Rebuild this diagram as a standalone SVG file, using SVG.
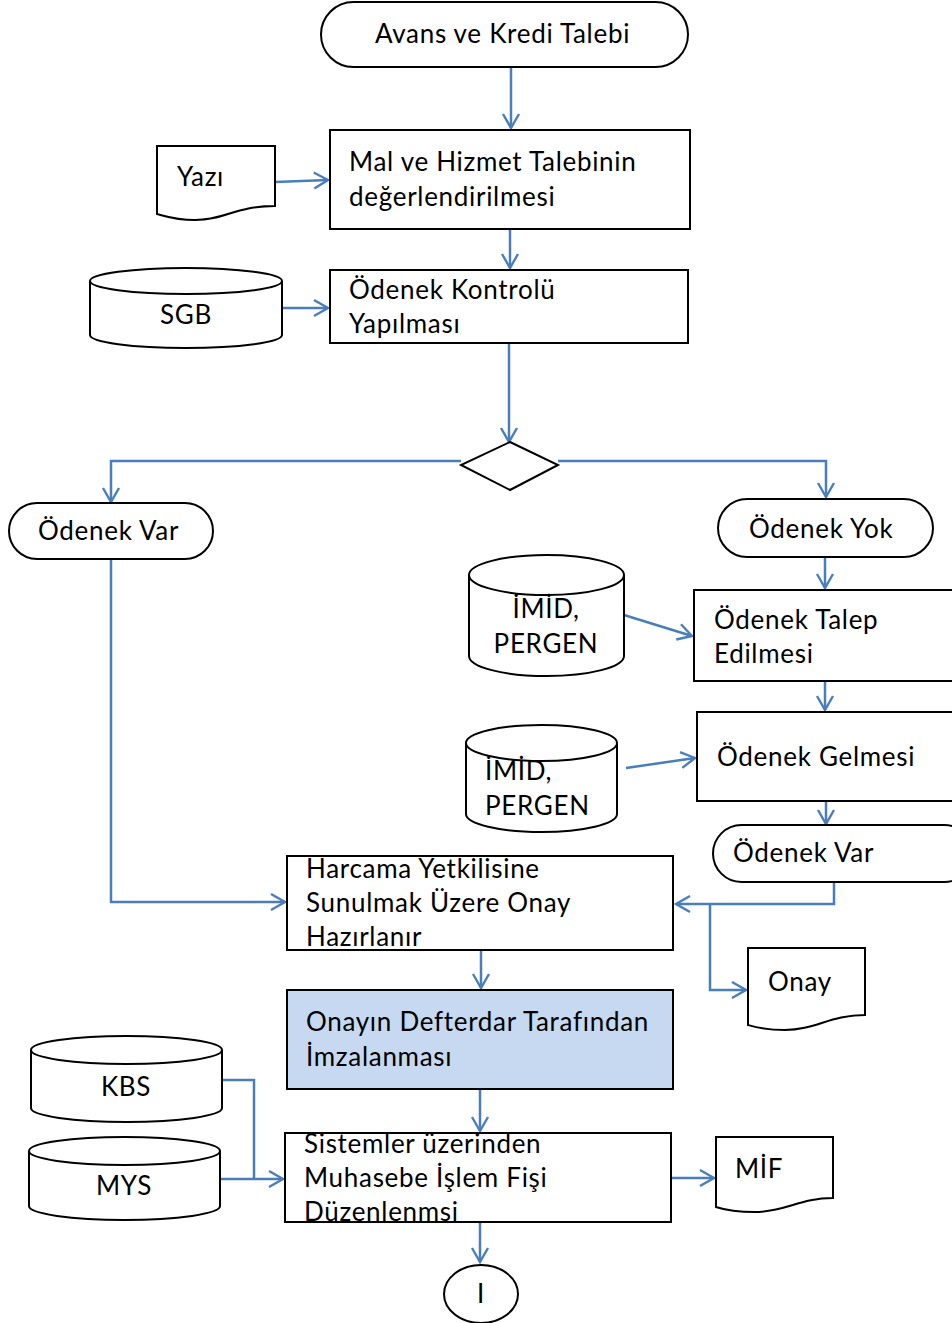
<svg xmlns="http://www.w3.org/2000/svg" width="952" height="1323" viewBox="0 0 952 1323">
<defs>
<marker id="ah" viewBox="0 0 20 20" refX="18" refY="10" markerWidth="20" markerHeight="20" markerUnits="userSpaceOnUse" orient="auto">
<path d="M4,2 L18,10 L4,18" fill="none" stroke="#4a7ebb" stroke-width="2.4"/>
</marker>
<style>
.s{fill:#fff;stroke:#000;stroke-width:2}
.t{font-family:Lato,"Liberation Sans",sans-serif;font-size:26px;letter-spacing:0.7px;fill:#000}
.c{fill:none;stroke:#4a7ebb;stroke-width:2.5}
</style>
</defs>
<rect width="952" height="1323" fill="#fff"/>
<g id="connectors">
<path class="c" d="M511,67 V128" marker-end="url(#ah)"/>
<path class="c" d="M275,182 L328,180" marker-end="url(#ah)"/>
<path class="c" d="M510,229 V268" marker-end="url(#ah)"/>
<path class="c" d="M282,308 H328" marker-end="url(#ah)"/>
<path class="c" d="M509,343 V442" marker-end="url(#ah)"/>
<path class="c" d="M461,461 H111 V502" marker-end="url(#ah)"/>
<path class="c" d="M558,461 H826 V497" marker-end="url(#ah)"/>
<path class="c" d="M825,557 V588" marker-end="url(#ah)"/>
<path class="c" d="M624,615 L692,636" marker-end="url(#ah)"/>
<path class="c" d="M825,681 V710" marker-end="url(#ah)"/>
<path class="c" d="M626,768 L695,758" marker-end="url(#ah)"/>
<path class="c" d="M826,801 V824" marker-end="url(#ah)"/>
<path class="c" d="M834,882 V904 H676" marker-end="url(#ah)"/>
<path class="c" d="M710,904 V990 H746" marker-end="url(#ah)"/>
<path class="c" d="M111,559 V902 H285" marker-end="url(#ah)"/>
<path class="c" d="M481,950 V988" marker-end="url(#ah)"/>
<path class="c" d="M480,1089 V1131" marker-end="url(#ah)"/>
<path class="c" d="M222,1080 H254 V1179"/>
<path class="c" d="M220,1179 H283" marker-end="url(#ah)"/>
<path class="c" d="M671,1178 H714" marker-end="url(#ah)"/>
<path class="c" d="M480,1222 V1262" marker-end="url(#ah)"/>
</g>
<g id="start">
<rect class="s" x="321" y="2" width="367" height="65" rx="32.5"/>
<text class="t" x="375" y="43">Avans ve Kredi Talebi</text>
</g>
<g id="yazi">
<path class="s" d="M157,146 H275 V206 C235,206 225,220 195,220 C175,220 165,216 157,214 Z"/>
<text class="t" x="177" y="186">Yazı</text>
</g>
<g id="mal">
<rect class="s" x="330" y="130" width="360" height="99"/>
<text class="t" x="349" y="171">Mal ve Hizmet Talebinin</text>
<text class="t" x="349" y="206">değerlendirilmesi</text>
</g>
<g id="sgb">
<path class="s" d="M90,281 V335 A96,13 0 0 0 282,335 V281"/>
<ellipse class="s" cx="186" cy="281" rx="96" ry="13"/>
<text class="t" x="186" y="324" text-anchor="middle">SGB</text>
</g>
<g id="kontrol">
<rect class="s" x="330" y="270" width="358" height="73"/>
<text class="t" x="349" y="299">Ödenek Kontrolü</text>
<text class="t" x="349" y="333">Yapılması</text>
</g>
<g id="decision">
<path class="s" d="M510,442 L558,465 L510,490 L461,465 Z"/>
</g>
<g id="var1">
<rect class="s" x="9" y="503" width="204" height="56" rx="28"/>
<text class="t" x="38" y="540">Ödenek Var</text>
</g>
<g id="yok">
<rect class="s" x="718" y="499" width="215" height="58" rx="29"/>
<text class="t" x="749" y="538">Ödenek Yok</text>
</g>
<g id="imid1">
<path class="s" d="M469,575 V656 A77.5,20 0 0 0 624,656 V575"/>
<ellipse class="s" cx="546.5" cy="575" rx="77.5" ry="20"/>
<text class="t" x="546" y="618" text-anchor="middle">İMİD,</text>
<text class="t" x="546" y="653" text-anchor="middle">PERGEN</text>
</g>
<g id="talep">
<rect class="s" x="694" y="590" width="270" height="91"/>
<text class="t" x="714" y="629">Ödenek Talep</text>
<text class="t" x="714" y="663">Edilmesi</text>
</g>
<g id="gelmesi">
<rect class="s" x="697" y="712" width="270" height="89"/>
<text class="t" x="717" y="766">Ödenek Gelmesi</text>
</g>
<g id="imid2">
<path class="s" d="M466,743 V814 A75.5,18 0 0 0 617,814 V743"/>
<ellipse class="s" cx="541.5" cy="743" rx="75.5" ry="18"/>
<text class="t" x="485" y="780">İMİD,</text>
<text class="t" x="485" y="815">PERGEN</text>
</g>
<g id="var2">
<rect class="s" x="713" y="825" width="260" height="57" rx="28.5"/>
<text class="t" x="733" y="862">Ödenek Var</text>
</g>
<g id="harcama">
<rect class="s" x="287" y="856" width="386" height="94"/>
<text class="t" x="306" y="878">Harcama Yetkilisine</text>
<text class="t" x="306" y="912">Sunulmak Üzere Onay</text>
<text class="t" x="306" y="946">Hazırlanır</text>
</g>
<g id="onay">
<path class="s" d="M748,948 H865 V1015 C830,1015 815,1030 785,1030 C765,1030 755,1027 748,1025 Z"/>
<text class="t" x="768" y="991">Onay</text>
</g>
<g id="defterdar">
<rect x="287" y="990" width="386" height="99" fill="#c6d9f1" stroke="#000" stroke-width="2"/>
<text class="t" x="306" y="1031">Onayın Defterdar Tarafından</text>
<text class="t" x="306" y="1066">İmzalanması</text>
</g>
<g id="kbs">
<path class="s" d="M31,1050 V1108 A95.5,14 0 0 0 222,1108 V1050"/>
<ellipse class="s" cx="126.5" cy="1050" rx="95.5" ry="14"/>
<text class="t" x="126" y="1096" text-anchor="middle">KBS</text>
</g>
<g id="mys">
<path class="s" d="M29,1151 V1206 A95.5,14 0 0 0 220,1206 V1151"/>
<ellipse class="s" cx="124.5" cy="1151" rx="95.5" ry="14"/>
<text class="t" x="124" y="1195" text-anchor="middle">MYS</text>
</g>
<g id="sistemler">
<rect class="s" x="285" y="1133" width="386" height="89"/>
<text class="t" x="304" y="1153">Sistemler üzerinden</text>
<text class="t" x="304" y="1187">Muhasebe İşlem Fişi</text>
<text class="t" x="304" y="1221">Düzenlenmsi</text>
</g>
<g id="mif">
<path class="s" d="M716,1137 H833 V1198 C800,1198 785,1212 755,1212 C735,1212 722,1209 716,1207 Z"/>
<text class="t" x="735" y="1178">MİF</text>
</g>
<g id="end">
<ellipse class="s" cx="481" cy="1294" rx="37" ry="29"/>
<text class="t" x="481" y="1303" text-anchor="middle">I</text>
</g>
</svg>
